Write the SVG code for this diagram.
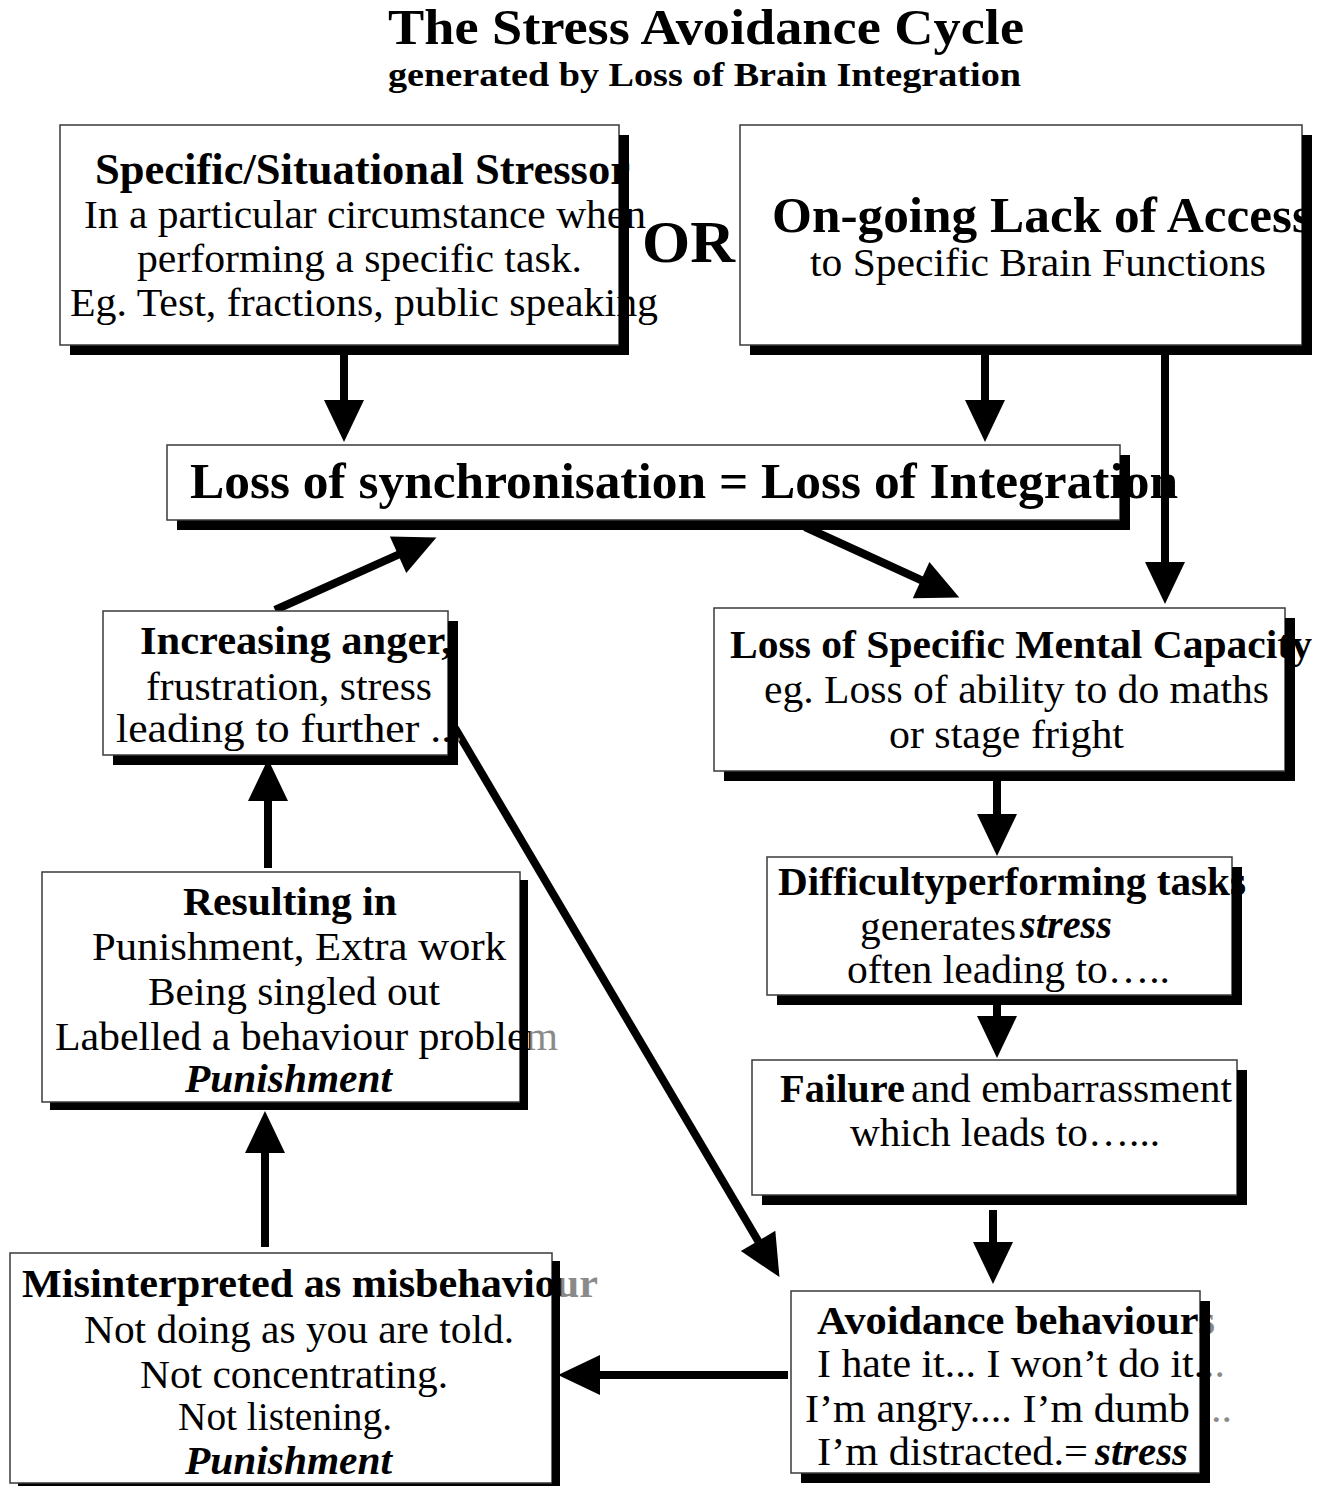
<svg xmlns="http://www.w3.org/2000/svg" width="1327" height="1486" viewBox="0 0 1327 1486">
<style>
.bg{fill:#fff}
.box{fill:#fff;stroke:#3a3a3a;stroke-width:1.5}
.sh{fill:#000}
text{font-family:"Liberation Serif","Times New Roman",serif;font-size:41px;fill:#000}
.b{font-weight:bold}
.bi{font-weight:bold;font-style:italic}
.conn line{stroke:#000;stroke-width:8}
.fInc{fill:url(#gInc)}
.fRes{fill:url(#gRes)}
.fMis{fill:url(#gMis)}
.fAvo{fill:url(#gAvo)}
</style>
<defs>
<marker id="ah" markerUnits="userSpaceOnUse" markerWidth="44" markerHeight="40" refX="1" refY="20" orient="auto" overflow="visible">
<path d="M0,0 L42,20 L0,40 z" fill="#000"/>
</marker>
<linearGradient id="gInc" gradientUnits="userSpaceOnUse" x1="457" y1="0" x2="459" y2="0"><stop offset="0" stop-color="#000"/><stop offset="1" stop-color="#8a8a8a"/></linearGradient>
<linearGradient id="gRes" gradientUnits="userSpaceOnUse" x1="529" y1="0" x2="531" y2="0"><stop offset="0" stop-color="#000"/><stop offset="1" stop-color="#8a8a8a"/></linearGradient>
<linearGradient id="gMis" gradientUnits="userSpaceOnUse" x1="560" y1="0" x2="562" y2="0"><stop offset="0" stop-color="#000"/><stop offset="1" stop-color="#8a8a8a"/></linearGradient>
<linearGradient id="gAvo" gradientUnits="userSpaceOnUse" x1="1209" y1="0" x2="1211" y2="0"><stop offset="0" stop-color="#000"/><stop offset="1" stop-color="#8a8a8a"/></linearGradient>
</defs>
<rect class="bg" x="0" y="0" width="1327" height="1486"/>

<g id="title">
<text class="b" x="388" y="44" style="font-size:50px" textLength="636" lengthAdjust="spacingAndGlyphs">The Stress Avoidance Cycle</text>
<text class="b" x="388" y="86" style="font-size:34px" textLength="633" lengthAdjust="spacingAndGlyphs">generated by Loss of Brain Integration</text>
</g>

<g id="connectors" class="conn">
<line x1="344" y1="355" x2="344" y2="401" marker-end="url(#ah)"/>
<line x1="985" y1="355" x2="985" y2="401" marker-end="url(#ah)"/>
<line x1="1165" y1="355" x2="1165" y2="563" marker-end="url(#ah)"/>
<line x1="805" y1="527" x2="922" y2="580.5" stroke-width="7" marker-end="url(#ah)"/>
<line x1="275" y1="610" x2="399" y2="554.3" stroke-width="7" marker-end="url(#ah)"/>
<line x1="268" y1="868" x2="268" y2="800" marker-end="url(#ah)"/>
<line x1="455" y1="728" x2="758.6" y2="1241.8" stroke-width="7" marker-end="url(#ah)"/>
<line x1="997" y1="781" x2="997" y2="815" marker-end="url(#ah)"/>
<line x1="997" y1="1005" x2="997" y2="1017" marker-end="url(#ah)"/>
<line x1="993" y1="1210" x2="993" y2="1243" marker-end="url(#ah)"/>
<line x1="788" y1="1375" x2="599" y2="1375" marker-end="url(#ah)"/>
<line x1="265" y1="1247" x2="265" y2="1152" stroke-width="12" marker-end="url(#ah)"/>
</g>

<g id="box-stressor">
<rect class="sh" x="70" y="135" width="559" height="220"/>
<rect class="box" x="60" y="125" width="559" height="220"/>
<text class="b" x="95" y="184" style="font-size:44px" textLength="535" lengthAdjust="spacingAndGlyphs">Specific/Situational Stressor</text>
<text x="84" y="228" textLength="562" lengthAdjust="spacingAndGlyphs">In a particular circumstance when</text>
<text x="137" y="272" textLength="445" lengthAdjust="spacingAndGlyphs">performing a specific task.</text>
<text x="70" y="316" textLength="588" lengthAdjust="spacingAndGlyphs">Eg. Test, fractions, public speaking</text>
<rect class="sh" x="619" y="135" width="10" height="220"/>
</g>

<g id="or-label">
<text class="b" x="642" y="262" style="font-size:60px" textLength="93" lengthAdjust="spacingAndGlyphs">OR</text>
</g>

<g id="box-access">
<rect class="sh" x="750" y="135" width="562" height="220"/>
<rect class="box" x="740" y="125" width="562" height="220"/>
<text class="b" x="772" y="232" style="font-size:50px" textLength="540" lengthAdjust="spacingAndGlyphs">On-going Lack of Access</text>
<text x="810" y="276" textLength="456" lengthAdjust="spacingAndGlyphs">to Specific Brain Functions</text>
<rect class="sh" x="1302" y="135" width="10" height="220"/>
</g>

<g id="box-sync">
<rect class="sh" x="177" y="455" width="953" height="75"/>
<rect class="box" x="167" y="445" width="953" height="75"/>
<text class="b" x="190" y="498" style="font-size:51px" textLength="988" lengthAdjust="spacingAndGlyphs">Loss of synchronisation = Loss of Integration</text>
<rect class="sh" x="1120" y="455" width="10" height="75"/>
</g>

<g id="box-anger">
<rect class="sh" x="113" y="621" width="345" height="144"/>
<rect class="box" x="103" y="611" width="345" height="144"/>
<text class="b" x="140" y="654" textLength="312" lengthAdjust="spacingAndGlyphs">Increasing anger,</text>
<text x="146" y="700" textLength="286" lengthAdjust="spacingAndGlyphs">frustration, stress</text>
<text class="fInc" x="116" y="742" textLength="347" lengthAdjust="spacingAndGlyphs">leading to further ...</text>
<rect class="sh" x="448" y="621" width="10" height="144"/>
</g>

<g id="box-capacity">
<rect class="sh" x="724" y="618" width="571" height="163"/>
<rect class="box" x="714" y="608" width="571" height="163"/>
<text class="b" x="730" y="658" textLength="582" lengthAdjust="spacingAndGlyphs">Loss of Specific Mental Capacity</text>
<text x="764" y="703" textLength="505" lengthAdjust="spacingAndGlyphs">eg. Loss of ability to do maths</text>
<text x="889" y="748" textLength="235" lengthAdjust="spacingAndGlyphs">or stage fright</text>
<rect class="sh" x="1285" y="618" width="10" height="163"/>
</g>

<g id="box-difficulty">
<rect class="sh" x="777" y="867" width="465" height="138"/>
<rect class="box" x="767" y="857" width="465" height="138"/>
<text class="b" x="778" y="895" textLength="468" lengthAdjust="spacingAndGlyphs">Difficultyperforming tasks</text>
<text x="860" y="940" textLength="156" lengthAdjust="spacingAndGlyphs">generates</text>
<text class="bi" x="1020" y="938" textLength="92" lengthAdjust="spacingAndGlyphs">stress</text>
<text x="847" y="983" textLength="323" lengthAdjust="spacingAndGlyphs">often leading to…..</text>
<rect class="sh" x="1232" y="867" width="10" height="138"/>
</g>

<g id="box-failure">
<rect class="sh" x="762" y="1070" width="485" height="135"/>
<rect class="box" x="752" y="1060" width="485" height="135"/>
<text class="b" x="780" y="1102" textLength="125" lengthAdjust="spacingAndGlyphs">Failure</text>
<text x="911" y="1102" textLength="321" lengthAdjust="spacingAndGlyphs">and embarrassment</text>
<text x="850" y="1146" textLength="310" lengthAdjust="spacingAndGlyphs">which leads to…...</text>
<rect class="sh" x="1237" y="1070" width="10" height="135"/>
</g>

<g id="box-avoidance">
<rect class="sh" x="801" y="1301" width="409" height="182"/>
<rect class="box" x="791" y="1291" width="409" height="182"/>
<text class="b fAvo" x="817" y="1334" textLength="398" lengthAdjust="spacingAndGlyphs">Avoidance behaviours</text>
<text class="fAvo" x="817" y="1377" textLength="408" lengthAdjust="spacingAndGlyphs">I hate it... I won’t do it...</text>
<text class="fAvo" x="805" y="1422" textLength="427" lengthAdjust="spacingAndGlyphs">I’m angry.... I’m dumb ...</text>
<text x="817" y="1465" textLength="271" lengthAdjust="spacingAndGlyphs">I’m distracted.=</text>
<text class="bi" x="1095" y="1465" textLength="93" lengthAdjust="spacingAndGlyphs">stress</text>
<rect class="sh" x="1200" y="1301" width="10" height="182"/>
</g>

<g id="box-misinterpreted">
<rect class="sh" x="18" y="1261" width="542" height="230"/>
<rect class="box" x="10" y="1253" width="542" height="230"/>
<text class="b fMis" x="22" y="1297" textLength="576" lengthAdjust="spacingAndGlyphs">Misinterpreted as misbehaviour</text>
<text x="84" y="1343" textLength="430" lengthAdjust="spacingAndGlyphs">Not doing as you are told.</text>
<text x="140" y="1388" textLength="308" lengthAdjust="spacingAndGlyphs">Not concentrating.</text>
<text x="178" y="1430" textLength="214" lengthAdjust="spacingAndGlyphs">Not listening.</text>
<text class="bi" x="185" y="1474" textLength="207" lengthAdjust="spacingAndGlyphs">Punishment</text>
<rect class="sh" x="552" y="1261" width="8" height="230"/>
</g>

<g id="box-resulting">
<rect class="sh" x="50" y="880" width="478" height="230"/>
<rect class="box" x="42" y="872" width="478" height="230"/>
<text class="b" x="183" y="915" textLength="214" lengthAdjust="spacingAndGlyphs">Resulting in</text>
<text x="92" y="960" textLength="414" lengthAdjust="spacingAndGlyphs">Punishment,  Extra work</text>
<text x="148" y="1005" textLength="292" lengthAdjust="spacingAndGlyphs">Being singled out</text>
<text class="fRes" x="55" y="1050" textLength="503" lengthAdjust="spacingAndGlyphs">Labelled a behaviour problem</text>
<text class="bi" x="185" y="1092" textLength="207" lengthAdjust="spacingAndGlyphs">Punishment</text>
<rect class="sh" x="520" y="880" width="8" height="230"/>
</g>
</svg>
